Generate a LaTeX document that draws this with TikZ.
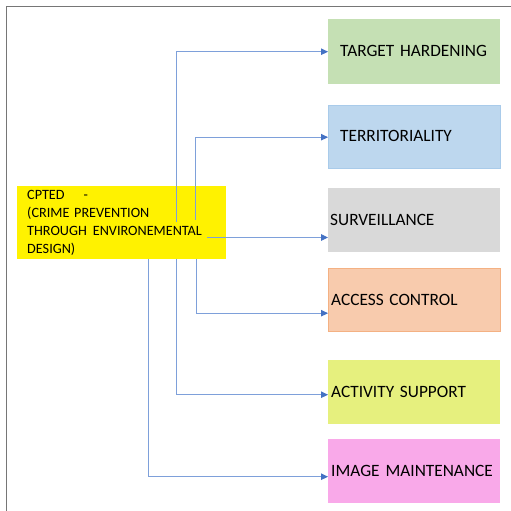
\documentclass[tikz,border=0pt]{standalone}
\usepackage{fontspec}
\setmainfont{Carlito}[WordSpace={0.9,0,0}]
\usetikzlibrary{arrows.meta,calc}
\definecolor{frame}{HTML}{767676}
\definecolor{lineblue}{HTML}{7EA0DA}
\definecolor{tipblue}{HTML}{4472C4}
\definecolor{thfill}{HTML}{C5E0B4}
\definecolor{trfill}{HTML}{BDD7EE}
\definecolor{trdraw}{HTML}{A9CBEA}
\definecolor{svfill}{HTML}{D9D9D9}
\definecolor{acfill}{HTML}{F8CBAD}
\definecolor{acdraw}{HTML}{F4B183}
\definecolor{asfill}{HTML}{E6F07E}
\definecolor{imfill}{HTML}{F9A9E9}
\begin{document}
\begin{tikzpicture}[x=1pt,y=-1pt,
  catbox/.style={anchor=north west, minimum width=172pt, minimum height=64pt,
    align=left, inner ysep=0pt, font=\fontsize{17.3}{20}\selectfont},
  conn/.style={draw=lineblue, line width=0.9pt,
    -{Triangle[length=7pt,width=6.5pt,color=tipblue]}}]
\useasboundingbox (0,0) rectangle (511,511);
\fill[white] (0,0) rectangle (511,511);
\draw[frame, line width=1.6pt] (6.5,511) -- (6.5,6.5) -- (511,6.5);

\node[anchor=north west, fill=yellow, minimum width=209pt, minimum height=73pt,
  text width=189pt, inner xsep=10pt, inner ysep=0pt, align=left,
  font=\fontsize{14.2}{18}\selectfont] (cp) at (17,186)
  {CPTED\hspace{19pt}-\\(CRIME PREVENTION\\THROUGH\hspace{6pt}ENVIRONEMENTAL\\DESIGN)};

\node[catbox, fill=thfill, inner xsep=12pt, text width=148pt, minimum height=65pt] (th) at (328,18.5) {\mbox{TARGET HARDENING}};
\node[catbox, fill=trfill, draw=trdraw, inner xsep=12pt, text width=148pt, minimum height=63pt] (tr) at (328,104.5) {\mbox{TERRITORIALITY}};
\node[catbox, fill=svfill, inner xsep=2pt, text width=168pt, minimum height=64pt] (sv) at (328,188) {\mbox{SURVEILLANCE}};
\node[catbox, fill=acfill, draw=acdraw, inner xsep=3pt, text width=166pt, minimum height=63pt] (ac) at (328,268) {\mbox{ACCESS CONTROL}};
\node[catbox, fill=asfill, inner xsep=3pt, text width=166pt, minimum height=64pt] (as) at (328,360) {\mbox{ACTIVITY SUPPORT}};
\node[catbox, fill=imfill, inner xsep=3pt, text width=166pt, minimum height=64pt] (im) at (328,439) {\mbox{IMAGE\hspace{6pt}MAINTENANCE}};

\coordinate (s1) at (176.5,222);
\coordinate (s2) at (195,219.5);
\coordinate (s3) at (207,237.5);

\draw[conn] (s1) |- ([yshift=-0.5pt]th.west);
\draw[conn] (s2) |- ([yshift=-1pt]tr.west);
\draw[conn] (s3) -- (s3 -| sv.west);
\draw[conn] (cp.south -| 196,0) |- ([yshift=-13.5pt]ac.west);
\draw[conn] (cp.south -| 176,0) |- ([yshift=-2.5pt]as.west);
\draw[conn] (cp.south -| 148.5,0) |- ([yshift=-5.5pt]im.west);
\end{tikzpicture}
\end{document}
